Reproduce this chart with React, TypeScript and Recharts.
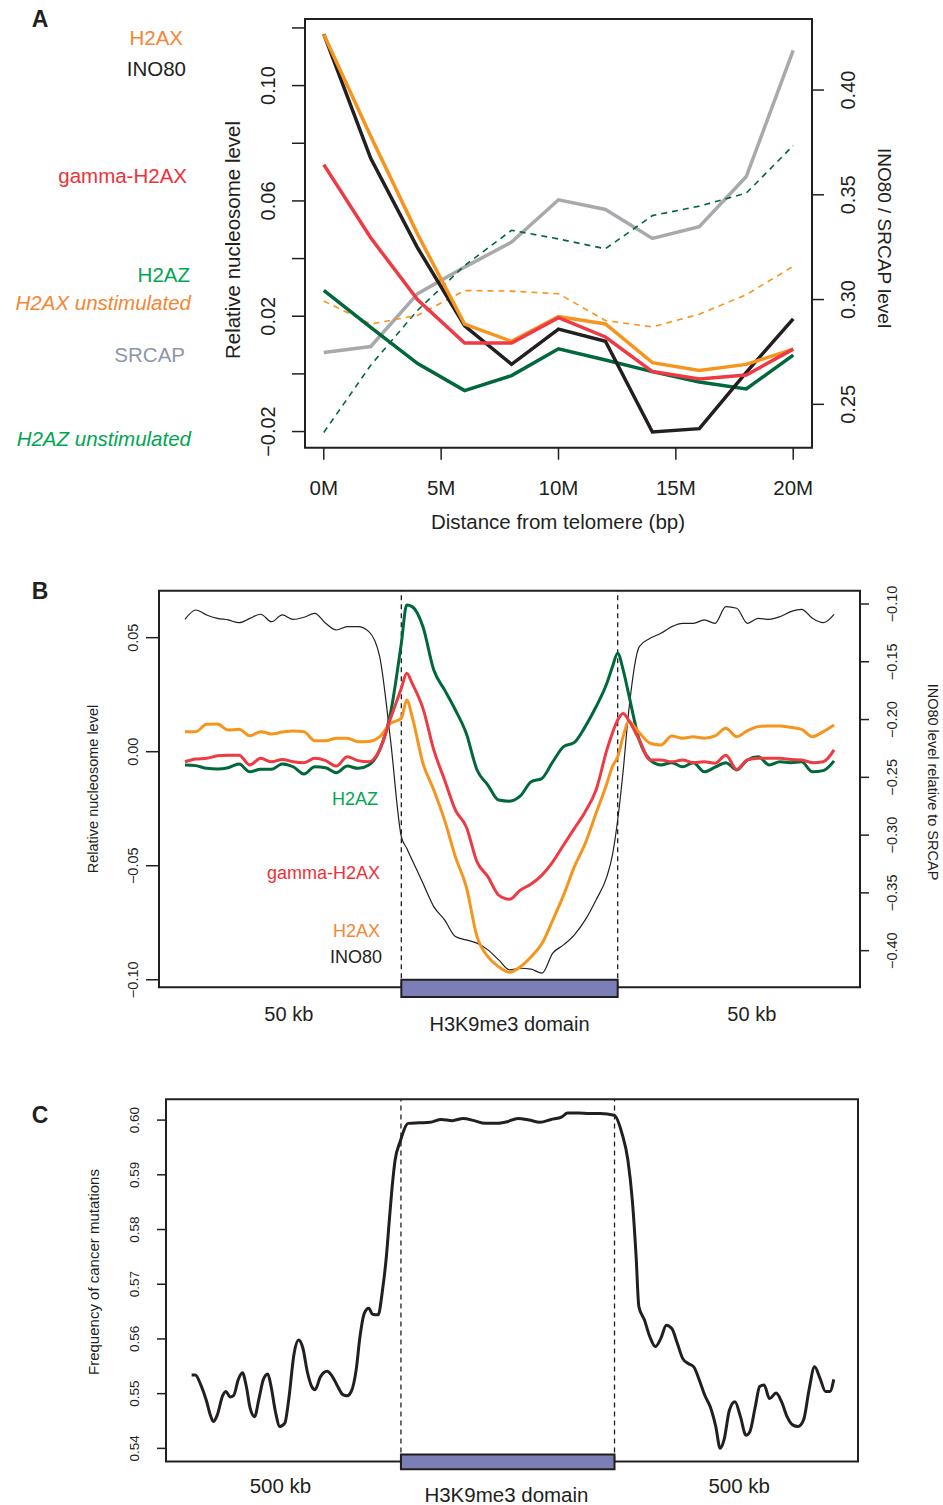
import React from 'react';
import { LineChart, Line, XAxis, YAxis, ReferenceArea, ReferenceLine } from 'recharts';

const FONT = '"Liberation Sans", Arial, Helvetica, sans-serif';
const INK = '#231f20';
const ORANGE = '#f7941d';
const RED = '#ee3a43';
const GREEN = '#00683a';
const GREY = '#a7a9ac';
const DOMAIN_FILL = '#7b7fb5';

// ---------- A: nucleosome levels vs distance from telomere ----------
const DIST_MB = [0, 2, 4, 6, 8, 10, 12, 14, 16, 18, 20];
const H2AX_A = [0.1177, 0.0824, 0.0484, 0.0173, 0.0113, 0.0199, 0.0173, 0.0039, 0.0012, 0.0033, 0.0086];
const GH2AX_A = [0.0726, 0.0472, 0.0257, 0.0107, 0.0107, 0.0195, 0.0128, 0.0008, -0.0018, -0.0004, 0.0086];
const H2AZ_A = [0.029, 0.0161, 0.0036, -0.0058, -0.0006, 0.0087, 0.0048, 0.0008, -0.0028, -0.0052, 0.0065];
const H2AX_UNSTIM_A = [0.0253, 0.0173, 0.0203, 0.0289, 0.0287, 0.0278, 0.0185, 0.0163, 0.0207, 0.0275, 0.0373];
const H2AZ_UNSTIM_A = [-0.0203, 0.003, 0.0221, 0.0376, 0.0498, 0.0468, 0.0434, 0.0549, 0.0582, 0.0627, 0.0792];
const INO80_A = [0.4267, 0.3674, 0.3246, 0.2875, 0.2691, 0.2859, 0.2801, 0.2368, 0.2384, 0.2653, 0.2908];
const SRCAP_A = [0.2747, 0.2776, 0.3028, 0.3155, 0.3274, 0.3476, 0.343, 0.3292, 0.3348, 0.3587, 0.4189];
const A_X_TICKS = [0, 5, 10, 15, 20];
const A_LEFT_TICKS = [-0.02, 0, 0.02, 0.04, 0.06, 0.08, 0.1, 0.12];
const A_LEFT_LABELLED = [-2, 2, 6, 10]; // hundredths
const A_RIGHT_TICKS = [0.25, 0.3, 0.35, 0.4];
const A_X_DOMAIN = [-0.8, 20.8];
const A_L_DOMAIN = [-0.0256, 0.1231];
const A_R_DOMAIN = [0.2293, 0.4339];

// ---------- B: profile across H3K9me3 domains ----------
const POS_B = [0, 2.5, 5, 7.5, 10, 12.5, 15, 17.5, 20, 22.5, 25, 27.5, 30, 32.5, 35, 37.5, 40, 42.5, 45, 47.5, 50, 51.25,
  52.5, 55, 57.5, 60, 62.5, 65, 67.5, 70, 72.5, 75, 77.5, 80, 82.5, 85, 87.5, 90, 92.5, 95, 97.5, 98.75, 100, 101.25,
  102.5, 105, 107.5, 110, 112.5, 115, 117.5, 120, 122.5, 125, 127.5, 130, 132.5, 135, 137.5, 140, 142.5, 145, 147.5, 150];
const H2AZ_B = [-0.0058, -0.0061, -0.0073, -0.0076, -0.007, -0.0054, -0.0088, -0.0077, -0.0077, -0.0054, -0.0066, -0.0098,
  -0.0066, -0.007, -0.0092, -0.0063, -0.0073, -0.0058, 0.0008, 0.0168, 0.0475, 0.0643,
  0.0636, 0.0548, 0.0358, 0.0271, 0.0183, 0.0081, -0.008, -0.0146, -0.0212, -0.0217, -0.0194, -0.0132, -0.0117, -0.0044,
  0.0022, 0.0041, 0.011, 0.0197, 0.03, 0.037, 0.0432, 0.036,
  0.0256, 0.0051, -0.0036, -0.0058, -0.0048, -0.0066, -0.0048, -0.0088, -0.0068, -0.0048, -0.008, -0.0036, -0.0022, -0.0058,
  -0.0044, -0.0048, -0.0044, -0.0088, -0.0083, -0.004];
const GH2AX_B = [-0.0044, -0.0032, -0.0029, -0.0018, -0.0015, -0.0015, -0.0058, -0.0029, -0.0044, -0.0034, -0.0044, -0.0048,
  -0.0029, -0.0039, -0.0063, -0.0022, -0.0039, -0.0044, 0.0008, 0.0146, 0.0278, 0.0344,
  0.03, 0.019, 0.0008, -0.0124, -0.0256, -0.0329, -0.0483, -0.0548, -0.0629, -0.0647, -0.0607, -0.058, -0.0541, -0.0483,
  -0.0409, -0.0336, -0.0263, -0.0168, 0.0008, 0.008, 0.0139, 0.0168,
  0.0139, 0.0051, -0.0036, -0.0036, -0.0044, -0.0036, -0.0048, -0.0044, -0.0051, -0.0015, -0.0077, -0.0036, -0.0029, -0.0029,
  -0.0029, -0.0034, -0.0036, -0.0048, -0.0044, 0.0008];
const H2AX_B = [0.0088, 0.0088, 0.012, 0.0121, 0.0095, 0.0098, 0.007, 0.0088, 0.0078, 0.0086, 0.0091, 0.0088,
  0.0048, 0.0048, 0.0059, 0.0059, 0.0044, 0.0045, 0.0066, 0.0124, 0.0146, 0.0227,
  0.0154, -0.0051, -0.0168, -0.03, -0.0461, -0.0592, -0.0811, -0.0899, -0.0943, -0.0967, -0.0943, -0.0899, -0.0841, -0.0738,
  -0.0629, -0.0504, -0.0402, -0.027, -0.0139, -0.0066, -0.0022, 0.0066,
  0.0132, 0.0083, 0.0037, 0.0029, 0.0069, 0.0059, 0.0066, 0.0059, 0.0069, 0.0103, 0.0066, 0.0092, 0.011, 0.0113,
  0.0113, 0.0107, 0.0098, 0.0066, 0.0088, 0.0117];
const INO80_B = [-0.1133, -0.1052, -0.1095, -0.1124, -0.1138, -0.1162, -0.1124, -0.1089, -0.1153, -0.1095, -0.1133, -0.1115,
  -0.1081, -0.1167, -0.1225, -0.1196, -0.1196, -0.1239, -0.1456, -0.2176, -0.3013, -0.3114,
  -0.3215, -0.3416, -0.3619, -0.3734, -0.3878, -0.3907, -0.3935, -0.3993, -0.408, -0.4166, -0.4152, -0.416, -0.4195, -0.4022,
  -0.395, -0.3863, -0.3734, -0.3561, -0.3359, -0.318, -0.2869, -0.245,
  -0.1946, -0.1369, -0.1297, -0.1254, -0.1196, -0.1167, -0.1167, -0.1138, -0.1167, -0.1023, -0.1037, -0.1167, -0.1124, -0.1133,
  -0.111, -0.1066, -0.1046, -0.1124, -0.1162, -0.1089];
const B_LEFT_TICKS = [-0.1, -0.05, 0, 0.05];
const B_RIGHT_TICKS = [-0.4, -0.35, -0.3, -0.25, -0.2, -0.15, -0.1];
const B_X_TICKS = [24, 75, 131];
const B_X_LABELS = ['50 kb', 'H3K9me3 domain', '50 kb'];
const B_EDGES = [50, 100];
const B_X_DOMAIN = [-6, 156];
const B_L_DOMAIN = [-0.1033, 0.0706];
const B_R_DOMAIN = [-0.4317, -0.0885];

// ---------- C: cancer mutation frequency across H3K9me3 domains ----------
const POS_C = [0, 0.86, 2.15, 3.43, 4.46, 5.1, 6, 7.29, 8.06, 8.96, 9.86, 10.89, 11.91, 12.81, 13.71, 14.74, 15.77, 16.8,
  17.83, 18.6, 19.62, 20.65, 21.81, 22.71, 24, 25.02, 26.05, 27.08, 28.11, 28.88, 30.16, 31.7, 32.73, 34.02, 35.3, 36.33,
  37.36, 38.51, 39.41, 40.44, 41.47, 42.37, 43.65, 44.68, 45.58, 46.22, 46.87, 47.64, 48.79, 50.72, 53.29, 55.86, 58.43,
  61, 63.57, 66.14, 68.71, 71.28, 73.85, 76.42, 78.99, 81.56, 84.13, 86.7, 87.99, 90.56, 93.13, 95.7, 98.91, 100.84,
  102.13, 103.16, 104.06, 104.7, 105.99, 107.27, 108.56, 109.84, 111.13, 112.41, 113.7, 114.98, 116.27, 117.55, 118.84,
  120.13, 121.41, 122.7, 123.73, 124.62, 125.91, 127.19, 128.48, 129.76, 130.66, 131.95, 132.98, 134.01, 135.29, 136.83,
  138.12, 139.4, 140.69, 141.97, 143.26, 144.54, 145.83, 147.11, 148.4, 149.43, 150.33];
const FREQ_C = [0.5534, 0.5534, 0.5516, 0.5488, 0.5459, 0.5449, 0.5461, 0.5497, 0.5504, 0.5494, 0.5497, 0.5525, 0.5538,
  0.5513, 0.5473, 0.5458, 0.5491, 0.5526, 0.5536, 0.5513, 0.5467, 0.544, 0.5446, 0.5488, 0.5574, 0.5598, 0.5583, 0.554,
  0.5513, 0.5507, 0.5531, 0.5541, 0.5534, 0.5516, 0.5499, 0.5496, 0.5504, 0.5543, 0.5604, 0.5647, 0.5656, 0.5645, 0.5644,
  0.5689, 0.575, 0.5811, 0.5872, 0.5927, 0.596, 0.5994, 0.5995, 0.5996, 0.6001, 0.5999, 0.6003, 0.5999, 0.5994, 0.5994,
  0.5997, 0.6003, 0.6, 0.5996, 0.6001, 0.6006, 0.6013, 0.6013, 0.6012, 0.6012, 0.6009, 0.5973, 0.5927, 0.5854, 0.575,
  0.5659, 0.5635, 0.5604, 0.5586, 0.5601, 0.5625, 0.5619, 0.5592, 0.5564, 0.5555, 0.5549, 0.5525, 0.5497, 0.5476, 0.544,
  0.54, 0.5415, 0.547, 0.5485, 0.5458, 0.5424, 0.543, 0.5476, 0.5513, 0.5516, 0.5491, 0.5501, 0.5485, 0.5458, 0.5443,
  0.544, 0.5452, 0.5507, 0.5549, 0.5528, 0.5504, 0.5504, 0.5526];
const C_LEFT_TICKS = [0.54, 0.55, 0.56, 0.57, 0.58, 0.59, 0.6];
const C_X_TICKS = [20.8, 73.7, 128.2];
const C_X_LABELS = ['500 kb', 'H3K9me3 domain', '500 kb'];
const C_EDGES = [49, 99];
const C_X_DOMAIN = [-6, 156];
const C_L_DOMAIN = [0.5376, 0.6038];

const aRows = DIST_MB.map((x, i) => ({
  x, h2ax: H2AX_A[i], gh2ax: GH2AX_A[i], h2az: H2AZ_A[i],
  h2axUn: H2AX_UNSTIM_A[i], h2azUn: H2AZ_UNSTIM_A[i], ino80: INO80_A[i], srcap: SRCAP_A[i],
}));
const bRows = POS_B.map((x, i) => ({ x, h2az: H2AZ_B[i], gh2ax: GH2AX_B[i], h2ax: H2AX_B[i], ino80: INO80_B[i] }));
const cRows = POS_C.map((x, i) => ({ x, freq: FREQ_C[i] }));

const fmtNum = (v: number) => (v < 0 ? '\u2212' : '') + Math.abs(v).toFixed(2);

// R-style y labels, rotated parallel to the axis
const vTick = (dx: number, fs: number, show?: (v: number) => boolean) => (p: any) => {
  const v = p.payload.value;
  if (show && !show(v)) return <g />;
  const cx = p.x + dx;
  return (
    <text x={cx} y={p.y} transform={`rotate(-90 ${cx} ${p.y})`} textAnchor="middle" dominantBaseline="central"
      fontSize={fs} fontFamily={FONT} fill={INK}>{fmtNum(v)}</text>
  );
};

const hTick = (fs: number, label: (v: number) => string, dy: (s: string) => number) => (p: any) => {
  const s = label(p.payload.value);
  return (
    <text x={p.x} y={p.y + dy(s)} textAnchor="middle" dominantBaseline="central" fontSize={fs} fontFamily={FONT} fill={INK}>{s}</text>
  );
};

const tickStyle = { stroke: INK, strokeWidth: 1.5 };

const T = (props: any) => <text fontFamily={FONT} dominantBaseline="central" {...props} />;

export default function App() {
  return (
    <div style={{ position: 'absolute', left: 0, top: 0, width: 943, height: 1505, background: '#fff' }}>
      {/* Panel A */}
      <div style={{ position: 'absolute', left: 0, top: 0 }}>
        <LineChart width={943} height={540} data={aRows} margin={{ top: 19, right: 0, bottom: 0, left: 0 }}>
          <XAxis dataKey="x" type="number" domain={A_X_DOMAIN} allowDataOverflow ticks={A_X_TICKS} interval={0}
            axisLine={false} tickLine={tickStyle} tickSize={12} tickMargin={0} height={92.3}
            tick={hTick(20.5, (v) => `${v}M`, () => 27.3)} />
          <YAxis yAxisId="L" type="number" domain={A_L_DOMAIN} allowDataOverflow ticks={A_LEFT_TICKS} interval={0}
            width={305} axisLine={false} tickLine={tickStyle} tickSize={13} tickMargin={0}
            tick={vTick(-24, 20, (v) => A_LEFT_LABELLED.includes(Math.round(v * 100)))} />
          <YAxis yAxisId="R" orientation="right" type="number" domain={A_R_DOMAIN} allowDataOverflow ticks={A_RIGHT_TICKS}
            interval={0} width={131} axisLine={false} tickLine={tickStyle} tickSize={12} tickMargin={0} tick={vTick(24, 20)} />
          <ReferenceArea yAxisId="L" x1={A_X_DOMAIN[0]} x2={A_X_DOMAIN[1]} y1={A_L_DOMAIN[0]} y2={A_L_DOMAIN[1]}
            fill="none" stroke={INK} strokeWidth={2} />
          <Line yAxisId="R" dataKey="srcap" type="linear" stroke={GREY} strokeWidth={3.5} dot={false} activeDot={false} isAnimationActive={false} />
          <Line yAxisId="L" dataKey="h2azUn" type="linear" stroke={GREEN} strokeWidth={1.6} strokeDasharray="6 5" dot={false} activeDot={false} isAnimationActive={false} />
          <Line yAxisId="L" dataKey="h2axUn" type="linear" stroke={ORANGE} strokeWidth={1.6} strokeDasharray="6 5" dot={false} activeDot={false} isAnimationActive={false} />
          <Line yAxisId="L" dataKey="h2az" type="linear" stroke={GREEN} strokeWidth={3.5} dot={false} activeDot={false} isAnimationActive={false} />
          <Line yAxisId="R" dataKey="ino80" type="linear" stroke={INK} strokeWidth={3.5} dot={false} activeDot={false} isAnimationActive={false} />
          <Line yAxisId="L" dataKey="h2ax" type="linear" stroke={ORANGE} strokeWidth={3.5} dot={false} activeDot={false} isAnimationActive={false} />
          <Line yAxisId="L" dataKey="gh2ax" type="linear" stroke={RED} strokeWidth={3.5} dot={false} activeDot={false} isAnimationActive={false} />
        </LineChart>
      </div>

      {/* Panel B */}
      <div style={{ position: 'absolute', left: 0, top: 580 }}>
        <LineChart width={943} height={460} data={bRows} margin={{ top: 10.7, right: 0, bottom: 0, left: 0 }}>
          <XAxis dataKey="x" type="number" domain={B_X_DOMAIN} allowDataOverflow ticks={B_X_TICKS} interval={0}
            axisLine={false} tickLine={false} tickSize={0} tickMargin={0} height={52.7}
            tick={hTick(20, (v) => B_X_LABELS[B_X_TICKS.indexOf(v)], (s) => (s.includes('domain') ? 36.7 : 26.7))} />
          <YAxis yAxisId="L" type="number" domain={B_L_DOMAIN} allowDataOverflow ticks={B_LEFT_TICKS} interval={0}
            width={159} axisLine={false} tickLine={tickStyle} tickSize={13} tickMargin={0} tick={vTick(-13, 14.5)} />
          <YAxis yAxisId="R" orientation="right" type="number" domain={B_R_DOMAIN} allowDataOverflow ticks={B_RIGHT_TICKS}
            interval={0} width={83} axisLine={false} tickLine={tickStyle} tickSize={9} tickMargin={0} tick={vTick(23, 14.5)} />
          <ReferenceArea yAxisId="L" x1={B_X_DOMAIN[0]} x2={B_X_DOMAIN[1]} y1={B_L_DOMAIN[0]} y2={B_L_DOMAIN[1]}
            fill="none" stroke={INK} strokeWidth={2} />
          {B_EDGES.map((e) => (
            <ReferenceLine key={e} yAxisId="L" x={e} stroke={INK} strokeWidth={1.3} strokeDasharray="5 4" />
          ))}
          <Line yAxisId="R" dataKey="ino80" type="monotone" stroke={INK} strokeWidth={1.2} dot={false} activeDot={false} isAnimationActive={false} />
          <Line yAxisId="L" dataKey="h2az" type="monotone" stroke={GREEN} strokeWidth={3} dot={false} activeDot={false} isAnimationActive={false} />
          <Line yAxisId="L" dataKey="h2ax" type="monotone" stroke={ORANGE} strokeWidth={3} dot={false} activeDot={false} isAnimationActive={false} />
          <Line yAxisId="L" dataKey="gh2ax" type="monotone" stroke={RED} strokeWidth={3} dot={false} activeDot={false} isAnimationActive={false} />
          <ReferenceArea yAxisId="L" x1={B_EDGES[0]} x2={B_EDGES[1]} y1={-0.1076} y2={-0.1} ifOverflow="visible"
            fill={DOMAIN_FILL} fillOpacity={1} stroke={INK} strokeWidth={2} />
        </LineChart>
      </div>

      {/* Panel C */}
      <div style={{ position: 'absolute', left: 0, top: 1090 }}>
        <LineChart width={943} height={415} data={cRows} margin={{ top: 9.3, right: 85, bottom: 0, left: 0 }}>
          <XAxis dataKey="x" type="number" domain={C_X_DOMAIN} allowDataOverflow ticks={C_X_TICKS} interval={0}
            axisLine={false} tickLine={false} tickSize={0} tickMargin={0} height={43.5}
            tick={hTick(20.5, (v) => C_X_LABELS[C_X_TICKS.indexOf(v)], (s) => (s.includes('domain') ? 32.5 : 23.5))} />
          <YAxis type="number" domain={C_L_DOMAIN} allowDataOverflow ticks={C_LEFT_TICKS} interval={0}
            width={166} axisLine={false} tickLine={tickStyle} tickSize={9} tickMargin={0} tick={vTick(-22, 13.5)} />
          <ReferenceArea x1={C_X_DOMAIN[0]} x2={C_X_DOMAIN[1]} y1={C_L_DOMAIN[0]} y2={C_L_DOMAIN[1]}
            fill="none" stroke={INK} strokeWidth={2} />
          {C_EDGES.map((e) => (
            <ReferenceLine key={e} x={e} stroke={INK} strokeWidth={1.3} strokeDasharray="5 4" />
          ))}
          <Line dataKey="freq" type="monotone" stroke={INK} strokeWidth={3} dot={false} activeDot={false} isAnimationActive={false} />
          <ReferenceArea x1={C_EDGES[0]} x2={C_EDGES[1]} y1={0.5362} y2={0.5389} ifOverflow="visible"
            fill={DOMAIN_FILL} fillOpacity={1} stroke={INK} strokeWidth={2} />
        </LineChart>
      </div>

      {/* labels, titles and panel letters */}
      <svg width={943} height={1505} style={{ position: 'absolute', left: 0, top: 0, pointerEvents: 'none' }}>
        <T x={40} y={19} fontSize={23} fontWeight="bold" textAnchor="middle" fill={INK}>A</T>
        <T x={40} y={591} fontSize={23} fontWeight="bold" textAnchor="middle" fill={INK}>B</T>
        <T x={40} y={1115} fontSize={23} fontWeight="bold" textAnchor="middle" fill={INK}>C</T>

        <T x={183} y={37} fontSize={20.5} textAnchor="end" fill="#f58634">H2AX</T>
        <T x={186} y={68} fontSize={20.5} textAnchor="end" fill={INK}>INO80</T>
        <T x={187} y={175} fontSize={20.5} textAnchor="end" fill="#ee3138">gamma-H2AX</T>
        <T x={190} y={274} fontSize={20.5} textAnchor="end" fill="#00a651">H2AZ</T>
        <T x={191} y={302} fontSize={20.5} textAnchor="end" fill="#f58634" fontStyle="italic">H2AX unstimulated</T>
        <T x={185} y={354} fontSize={20.5} textAnchor="end" fill="#8e96a8">SRCAP</T>
        <T x={191} y={438} fontSize={20.5} textAnchor="end" fill="#00a651" fontStyle="italic">H2AZ unstimulated</T>

        <T x={232} y={240} fontSize={20.5} textAnchor="middle" fill={INK} transform="rotate(-90 232 240)">Relative nucleosome level</T>
        <T x={884} y={238} fontSize={19} textAnchor="middle" fill={INK} transform="rotate(90 884 238)">INO80 / SRCAP level</T>
        <T x={558} y={521} fontSize={20.5} textAnchor="middle" fill={INK}>Distance from telomere (bp)</T>

        <T x={378} y={799} fontSize={18} textAnchor="end" fill="#00a651">H2AZ</T>
        <T x={380} y={873} fontSize={18} textAnchor="end" fill="#ee3138">gamma-H2AX</T>
        <T x={380} y={931} fontSize={18} textAnchor="end" fill="#f58634">H2AX</T>
        <T x={382} y={957} fontSize={18} textAnchor="end" fill={INK}>INO80</T>

        <T x={93} y={789} fontSize={14.5} textAnchor="middle" fill={INK} transform="rotate(-90 93 789)">Relative nucleosome level</T>
        <T x={933} y={782} fontSize={14.5} textAnchor="middle" fill={INK} transform="rotate(90 933 782)">INO80 level relative to SRCAP</T>

        <T x={93} y={1272} fontSize={15} textAnchor="middle" fill={INK} transform="rotate(-90 93 1272)">Frequency of cancer mutations</T>
      </svg>
    </div>
  );
}
